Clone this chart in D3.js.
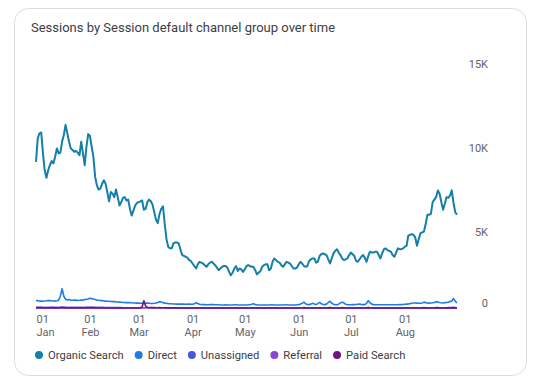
<!DOCTYPE html>
<html>
<head>
<meta charset="utf-8">
<script src="https://cdn.jsdelivr.net/npm/d3@7"></script>
<style>
  body { margin: 0; background: #fff; }
  svg { display: block; font-family: Roboto, "Noto Sans", sans-serif; }
</style>
</head>
<body>
<div id="chart"></div>
<script>
// daily sessions, 1 Jan - 31 Aug 2023 (one line per month)
const organicSearch = [
  8700,10100,10400,10450,9200,8200,7750,8200,8500,8750,8600,9000,9500,9200,9250,9900,10300,10900,10400,9900,9500,9400,9300,9350,9250,9100,9900,9200,8500,9600,10350,
  10250,9600,9000,7800,7300,7050,7100,7400,7600,7400,6900,6350,6900,6800,6600,7050,6600,6100,6300,6550,6600,6400,6450,5900,5500,5800,6100,6250,
  6300,6350,6400,5850,5900,6300,6450,6350,6150,5700,5250,5050,5600,5900,6050,5000,4100,3650,3550,3550,3850,3900,3900,3850,3500,3150,3100,3050,3000,2850,2800,
  2650,2500,2350,2600,2750,2700,2650,2550,2450,2600,2700,2750,2650,2550,2400,2250,2350,2450,2500,2500,2400,2150,1950,2100,2350,2500,2200,2350,2300,2150,
  2300,2500,2550,2500,2450,2450,2250,2000,2100,2200,2450,2550,2600,2600,2250,2350,2750,2950,2850,2750,2700,2550,2450,2600,2750,2700,2650,2500,2350,2350,2400,
  2600,2750,2650,2500,2450,2500,2800,2900,2950,2950,2700,2750,3100,3200,3250,3200,3150,2900,2650,2950,3250,3400,3500,3300,3150,2950,2850,2900,2950,3150,
  3300,3200,3100,2800,2750,2900,3050,3150,3000,2750,3100,3350,3300,3300,3350,3350,3150,2950,3250,3500,3550,3450,3400,3350,3150,3050,3300,3550,3500,3500,3550,
  3650,3700,4300,4350,4400,4350,4200,3700,4100,4450,4500,4550,5000,5550,5550,5600,6300,6450,6600,7000,6800,6300,5850,6200,6600,6550,6700,7000,6250,5700,5550
];
const direct = [
  430,440,420,410,400,420,430,450,440,430,420,410,430,460,700,1150,700,520,480,500,470,460,480,470,450,460,480,470,500,520,540,
  580,560,530,500,470,460,450,440,420,410,400,400,390,380,380,370,360,350,340,330,330,320,320,310,310,300,300,290,
  290,280,280,290,300,290,280,270,270,280,300,330,380,360,320,290,280,260,250,250,240,240,230,230,240,230,230,220,230,240,220,
  220,250,320,270,220,210,200,200,190,190,200,200,200,190,190,190,180,180,180,190,180,180,180,180,190,190,180,180,180,180,
  180,180,190,190,220,260,200,190,180,180,180,180,180,180,180,190,190,180,180,180,180,180,180,190,190,180,180,180,180,180,190,
  200,230,280,350,250,200,200,230,280,240,210,260,330,250,210,200,230,330,400,280,220,200,190,230,300,350,300,220,200,190,
  190,200,200,210,220,230,210,200,200,280,430,300,230,200,190,190,190,190,190,190,190,190,190,190,190,190,190,190,200,200,210,
  220,230,240,260,280,300,300,290,280,280,300,350,320,300,290,300,310,330,380,360,330,310,300,320,330,340,380,420,560,400,310
];
const unassigned = [
  30,35,40,38,32,28,25,30,34,36,35,33,30,28,40,60,45,35,33,30,32,34,31,30,28,30,32,34,33,36,38,
  40,38,35,33,30,28,27,26,25,25,24,24,23,22,22,21,21,20,20,19,19,18,18,18,17,17,17,16,
  16,16,17,18,18,17,16,15,15,16,17,18,20,19,17,16,15,15,14,14,14,13,13,13,14,13,13,12,13,14,13,
  13,14,18,15,13,12,12,12,11,11,12,12,12,11,11,11,10,10,10,11,10,10,10,10,11,11,10,10,10,10,
  10,10,11,11,13,15,12,11,10,10,10,10,10,10,10,11,11,10,10,10,10,10,10,11,11,10,10,10,10,10,11,
  12,13,16,20,14,12,12,13,16,14,12,15,19,14,12,12,13,19,23,16,13,12,11,13,17,20,17,13,12,11,
  11,12,12,12,13,13,12,12,12,16,25,17,13,12,11,11,11,11,11,11,11,11,11,11,11,11,11,11,12,12,12,
  13,13,14,15,16,17,17,17,16,16,17,20,18,17,17,17,18,19,22,21,19,18,17,18,19,20,22,24,32,23,18
];
const referral = [
  25,28,30,27,24,22,20,24,26,27,26,25,24,22,30,45,34,27,25,24,25,26,24,23,22,23,25,26,25,27,29,
  30,29,27,25,23,22,21,20,20,19,19,19,18,18,17,17,17,16,16,16,15,15,15,15,14,14,14,14,
  14,14,14,15,15,14,14,13,13,14,14,15,16,15,14,13,13,12,12,12,12,11,11,11,12,11,11,11,11,12,11,
  11,12,15,13,11,10,10,10,10,10,10,10,10,10,10,10,9,9,9,10,9,9,9,9,10,10,9,9,9,9,
  9,9,10,10,11,13,10,10,9,9,9,9,9,9,9,10,10,9,9,9,9,9,9,10,10,9,9,9,9,9,10,
  10,11,14,17,12,10,10,11,14,12,11,13,16,12,10,10,11,16,20,14,11,10,10,11,15,17,15,11,10,10,
  10,10,10,11,11,12,11,10,10,14,21,15,11,10,10,10,10,10,10,10,10,10,10,10,10,10,10,10,10,10,11,
  11,12,12,13,14,15,15,15,14,14,15,17,16,15,15,15,16,17,19,18,17,16,15,16,17,17,19,21,28,20,16
];
const paidSearch = [
  5,6,7,6,5,4,4,5,6,6,6,5,5,4,6,8,6,5,5,5,5,6,5,5,4,5,5,6,5,6,6,
  6,6,5,5,5,4,4,4,4,4,4,4,4,4,4,4,4,3,3,3,3,3,3,3,3,3,3,3,
  3,10,60,430,120,40,30,25,22,20,18,18,16,15,14,12,10,9,8,7,6,5,5,4,4,4,4,4,4,4,4,
  4,4,5,4,4,3,3,3,3,3,3,3,3,3,3,3,3,3,3,3,3,3,3,3,3,3,3,3,3,3,
  3,3,3,3,3,4,3,3,3,3,3,3,3,3,3,3,3,3,3,3,3,3,3,3,3,3,3,3,3,3,3,
  3,3,4,5,4,3,3,3,4,4,3,4,5,4,3,3,3,5,6,4,3,3,3,3,4,5,4,3,3,3,
  3,3,3,3,3,3,3,3,3,4,6,4,3,3,3,3,3,3,3,3,3,3,3,3,3,3,3,3,3,3,3,
  3,3,3,4,4,4,4,4,4,4,4,5,5,4,4,4,4,5,5,5,5,4,4,4,5,5,5,6,8,6,5
];

const channels = ['Organic Search', 'Direct', 'Unassigned', 'Referral', 'Paid Search'];
const channelValues = [organicSearch, direct, unassigned, referral, paidSearch];
const colors = ['#147fa8', '#1f7ddf', '#4b55d8', '#8a45d2', '#6f1486'];
const yTicks = [0, 5000, 10000, 15000];
const startDate = new Date(2023, 0, 1);
const endDate = new Date(2023, 7, 31);

const width = 534;
const height = 379;

const svg = d3.select('#chart')
  .append('svg')
    .attr('width', width)
    .attr('height', height);

// card
svg.append('rect')
  .attr('x', 14.5).attr('y', 8.5)
  .attr('width', 512).attr('height', 367)
  .attr('rx', 14)
  .attr('fill', '#fff')
  .attr('stroke', '#dadce0');

svg.append('text')
  .attr('x', 31).attr('y', 32)
  .attr('font-size', 13)
  .attr('fill', '#3c4043')
  .text('Sessions by Session default channel group over time');

const x = d3.scaleTime()
  .domain([startDate, endDate])
  .range([36, 457]);

const y = d3.scaleLinear()
  .domain([0, 15000])
  .range([308, 56]);

// grid + right axis labels
const yAxis = svg.append('g')
  .attr('transform', 'translate(488,0)')
  .call(d3.axisLeft(y)
    .tickValues(yTicks)
    .tickSize(457)
    .tickFormat(d => d === 0 ? '0' : (d / 1000) + 'K'));
yAxis.select('.domain').remove();
yAxis.selectAll('.tick line')
  .attr('stroke', '#ebebeb')
  .attr('x2', -1);
yAxis.selectAll('.tick text')
  .attr('x', 0)
  .attr('dy', d => d === 0 ? '-2px' : '11px')
  .attr('text-anchor', 'end')
  .attr('font-size', 11)
  .attr('font-family', 'Roboto, sans-serif')
  .attr('fill', '#5f6368');

// bottom axis: "01" over month name
const months = d3.timeMonth.range(startDate, endDate);
const xAxis = svg.append('g')
  .attr('transform', 'translate(0,308)')
  .call(d3.axisBottom(x).tickValues(months).tickSize(0).tickFormat(''));
xAxis.select('.domain').remove();
xAxis.selectAll('.tick').each(function(d, i) {
  const t = d3.select(this).append('text')
    .attr('fill', '#5f6368')
    .attr('font-size', 11)
    .attr('font-family', 'Roboto, sans-serif')
    .attr('text-anchor', i === 0 ? 'start' : 'middle');
  t.append('tspan').attr('x', 0).attr('y', 15).text(d3.timeFormat('%d')(d));
  t.append('tspan').attr('x', 0).attr('y', 28).text(d3.timeFormat('%b')(d));
});

const dates = organicSearch.map((v, i) => d3.timeDay.offset(startDate, i));

const line = d3.line()
  .x((d, i) => x(dates[i]))
  .y(d => y(d));

svg.selectAll('path.series')
  .data(channelValues)
  .enter()
  .append('path')
    .attr('class', 'series')
    .attr('fill', 'none')
    .attr('stroke', (d, i) => colors[i])
    .attr('stroke-width', (d, i) => i === 0 ? 2 : 1.6)
    .attr('stroke-linejoin', 'round')
    .attr('d', line);

// legend
const legend = svg.append('g').attr('transform', 'translate(0,355)');
let lx = 39;
channels.forEach((name, i) => {
  legend.append('circle')
    .attr('cx', lx).attr('cy', 0).attr('r', 4)
    .attr('fill', colors[i]);
  const txt = legend.append('text')
    .attr('x', lx + 9).attr('y', 4)
    .attr('font-size', 11.2)
    .attr('fill', '#3c4043')
    .text(name);
  lx += 9 + txt.node().getComputedTextLength() + 15;
});
</script>
</body>
</html>
